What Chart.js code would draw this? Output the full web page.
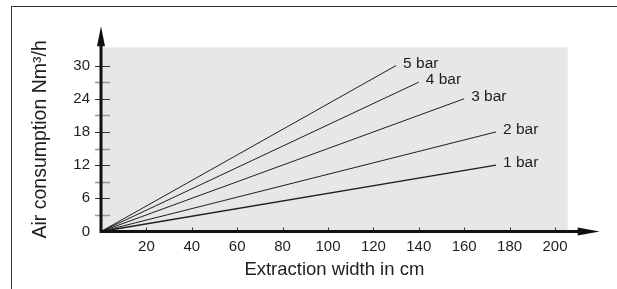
<!DOCTYPE html>
<html>
<head>
<meta charset="utf-8">
<script src="https://cdn.jsdelivr.net/npm/chart.js@4/dist/chart.umd.min.js"></script>
<style>
  html, body { margin: 0; padding: 0; background: #fff; }
  #wrap { position: relative; width: 617px; height: 289px; overflow: hidden; }
  #frame { position: absolute; left: 11px; top: 6px; right: 0; bottom: -2px;
           border-top: 1px solid #333; border-left: 1px solid #333; }
  canvas { position: absolute; left: 0; top: 0; }
</style>
</head>
<body>
<div id="wrap">
  <div id="frame"></div>
  <canvas id="grafico" width="617" height="289"></canvas>
</div>
<script>
// datos
const seriesNames = ["1 bar", "2 bar", "3 bar", "4 bar", "5 bar"];
const startWidth = [0, 0, 0, 0, 0];
const startAir = [0, 0, 0, 0, 0];
const endWidth = [174, 174, 160, 140, 130];   // cm
const endAir = [12, 18, 24, 27, 30];          // Nm3/h
const xTickStep = 20;
const xMax = 205.6;
const yTickStep = 3;
const yLabelStep = 6;
const yMax = 33.3;
const yLastTick = 30;

const FONT = "'Liberation Sans', Arial, Helvetica, sans-serif";
const INK = "#1e1e1e";

const datasets = seriesNames.map((name, i) => ({
  label: name,
  data: [{ x: startWidth[i], y: startAir[i] }, { x: endWidth[i], y: endAir[i] }],
  borderColor: INK,
  borderWidth: i === 0 ? 1.4 : 1,
  pointRadius: 0,
  tension: 0,
  clip: false
}));

// fondo gris del area de datos
const fondo = {
  id: "fondo",
  beforeDraw(chart) {
    const { ctx, chartArea: a } = chart;
    ctx.save();
    ctx.fillStyle = "#e6e7e9";
    ctx.fillRect(a.left, a.top, a.right - a.left, a.bottom - a.top);
    ctx.restore();
  }
};

// ejes con flechas, marcas y etiquetas de las series
const ejes = {
  id: "ejes",
  afterDatasetsDraw(chart) {
    const { ctx, chartArea: a } = chart;
    const xs = chart.scales.x, ys = chart.scales.y;
    const x0 = xs.getPixelForValue(0), y0 = ys.getPixelForValue(0);
    ctx.save();

    // marcas eje y
    ys.ticks.forEach(t => {
      const v = Math.round(t.value);
      if (v <= 0 || v > yLastTick) return;
      const py = Math.round(ys.getPixelForValue(v)) + 0.5;
      const major = v % yLabelStep === 0;
      ctx.strokeStyle = major ? "#333" : "#9a9a9a";
      ctx.lineWidth = major ? 1 : 1.6;
      ctx.beginPath();
      ctx.moveTo(x0 - 6, py);
      ctx.lineTo(x0 + 9, py);
      ctx.stroke();
    });

    // marcas eje x
    ctx.strokeStyle = "#333";
    ctx.lineWidth = 1;
    xs.ticks.forEach(t => {
      const v = Math.round(t.value);
      if (v <= 0) return;
      const px = Math.round(xs.getPixelForValue(v)) + 0.5;
      ctx.beginPath();
      ctx.moveTo(px, y0 - 4);
      ctx.lineTo(px, y0 + 1);
      ctx.stroke();
    });

    // lineas de los ejes
    ctx.strokeStyle = "#111";
    ctx.fillStyle = "#111";
    ctx.lineWidth = 3;
    ctx.beginPath();
    ctx.moveTo(x0, y0 + 1.5);
    ctx.lineTo(x0, a.top - 10);
    ctx.moveTo(x0 - 1.5, y0);
    ctx.lineTo(a.right + 15, y0);
    ctx.stroke();

    // flecha y
    const yTip = a.top - 21;
    ctx.beginPath();
    ctx.moveTo(x0, yTip);
    ctx.lineTo(x0 - 4, yTip + 20);
    ctx.lineTo(x0 + 4, yTip + 20);
    ctx.closePath();
    ctx.fill();

    // flecha x
    const xTip = a.right + 32;
    ctx.beginPath();
    ctx.moveTo(xTip, y0);
    ctx.lineTo(xTip - 22, y0 - 4);
    ctx.lineTo(xTip - 22, y0 + 4);
    ctx.closePath();
    ctx.fill();

    // nombres de las series al final de cada linea
    ctx.font = "15.5px " + FONT;
    ctx.fillStyle = INK;
    ctx.textAlign = "left";
    ctx.textBaseline = "middle";
    chart.data.datasets.forEach((ds, i) => {
      const pts = chart.getDatasetMeta(i).data;
      const p = pts[pts.length - 1];
      ctx.fillText(ds.label, p.x + 7, p.y - 2);
    });
    ctx.restore();
  }
};

new Chart(document.getElementById("grafico").getContext("2d"), {
  type: "line",
  data: { datasets },
  options: {
    responsive: false,
    maintainAspectRatio: false,
    animation: false,
    events: [],
    layout: { padding: { left: 0, top: 47.3, right: 49.3, bottom: 0 } },
    plugins: { legend: { display: false }, tooltip: { enabled: false } },
    scales: {
      x: {
        type: "linear",
        min: 0,
        max: xMax,
        grid: { display: false, drawTicks: false },
        border: { display: false },
        ticks: {
          stepSize: xTickStep,
          includeBounds: false,
          padding: 6,
          maxRotation: 0,
          autoSkip: false,
          color: INK,
          font: { family: FONT, size: 15 },
          callback: v => (v === 0 ? "" : v)
        },
        title: {
          display: true,
          text: "Extraction width in cm",
          color: INK,
          font: { family: FONT, size: 18.5 },
          padding: { top: 0, bottom: 8 }
        },
        afterFit(s) { s.height = 57.5; }
      },
      y: {
        type: "linear",
        min: 0,
        max: yMax,
        grid: { display: false, drawTicks: false },
        border: { display: false },
        ticks: {
          stepSize: yTickStep,
          includeBounds: false,
          padding: 11,
          autoSkip: false,
          color: INK,
          font: { family: FONT, size: 15 },
          callback: v => (Math.round(v) % yLabelStep === 0 ? Math.round(v) : "")
        },
        title: {
          display: true,
          text: "Air consumption Nm³/h",
          color: INK,
          font: { family: FONT, size: 19.5 },
          padding: { top: 29, bottom: 0 }
        },
        afterFit(s) { s.width = 101; }
      }
    }
  },
  plugins: [fondo, ejes]
});
</script>
</body>
</html>
